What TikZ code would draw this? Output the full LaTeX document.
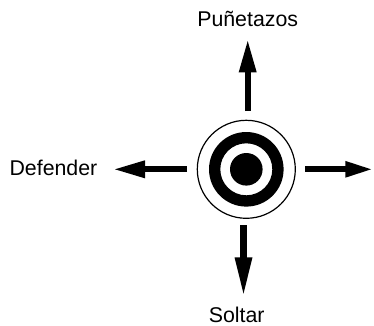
\documentclass[tikz,border=0pt]{standalone}
\usepackage{fontspec}
\setmainfont{Liberation Sans}
\usetikzlibrary{arrows.meta}
\begin{document}
\begin{tikzpicture}[x=0.75pt,y=-0.75pt,
  lbl/.style={font=\fontsize{16}{18}\selectfont, inner sep=0pt, anchor=base},
  bigarrow/.style={line width=4.6pt, -{Triangle[length=25pt,width=12pt]}},
  ring/.style={draw=black, line width=0.9pt}]
\useasboundingbox (0,0) rectangle (374,325);
% target
\node[circle, ring, minimum size=98pt*0.75, inner sep=0pt] (tgt) at (246.3,169.3) {};
\fill[black, even odd rule] (tgt.center) circle (37.3) (tgt.center) circle (26);
\fill[black] (tgt.center) circle (16.3);
% labels
\node[lbl] (up) at (247.7,26) {Puñetazos};
\node[lbl] (down) at (236.7,322) {Soltar};
\node[lbl, anchor=base west] (left) at (9.3,175.5) {Defender};
% arrow end coordinates
\coordinate (ua) at (247.7,111);
\coordinate (ub) at (247.7,39);
\coordinate (da) at (243.5,225);
\coordinate (db) at (243.5,296);
\coordinate (la) at (187,169.3);
\coordinate (lb) at (113,169.3);
\coordinate (ra) at (305,169.3);
\coordinate (rb) at (373.3,169.3);
\draw[bigarrow] (ua) -- (ub);
\draw[bigarrow, -{Triangle[length=29pt,width=12pt]}] (da) -- (db);
\draw[bigarrow, -{Triangle[length=24pt,width=12pt]}] (la) -- (lb);
\draw[bigarrow, -{Triangle[length=21pt,width=11pt]}] (ra) -- (rb);
\end{tikzpicture}
\end{document}
